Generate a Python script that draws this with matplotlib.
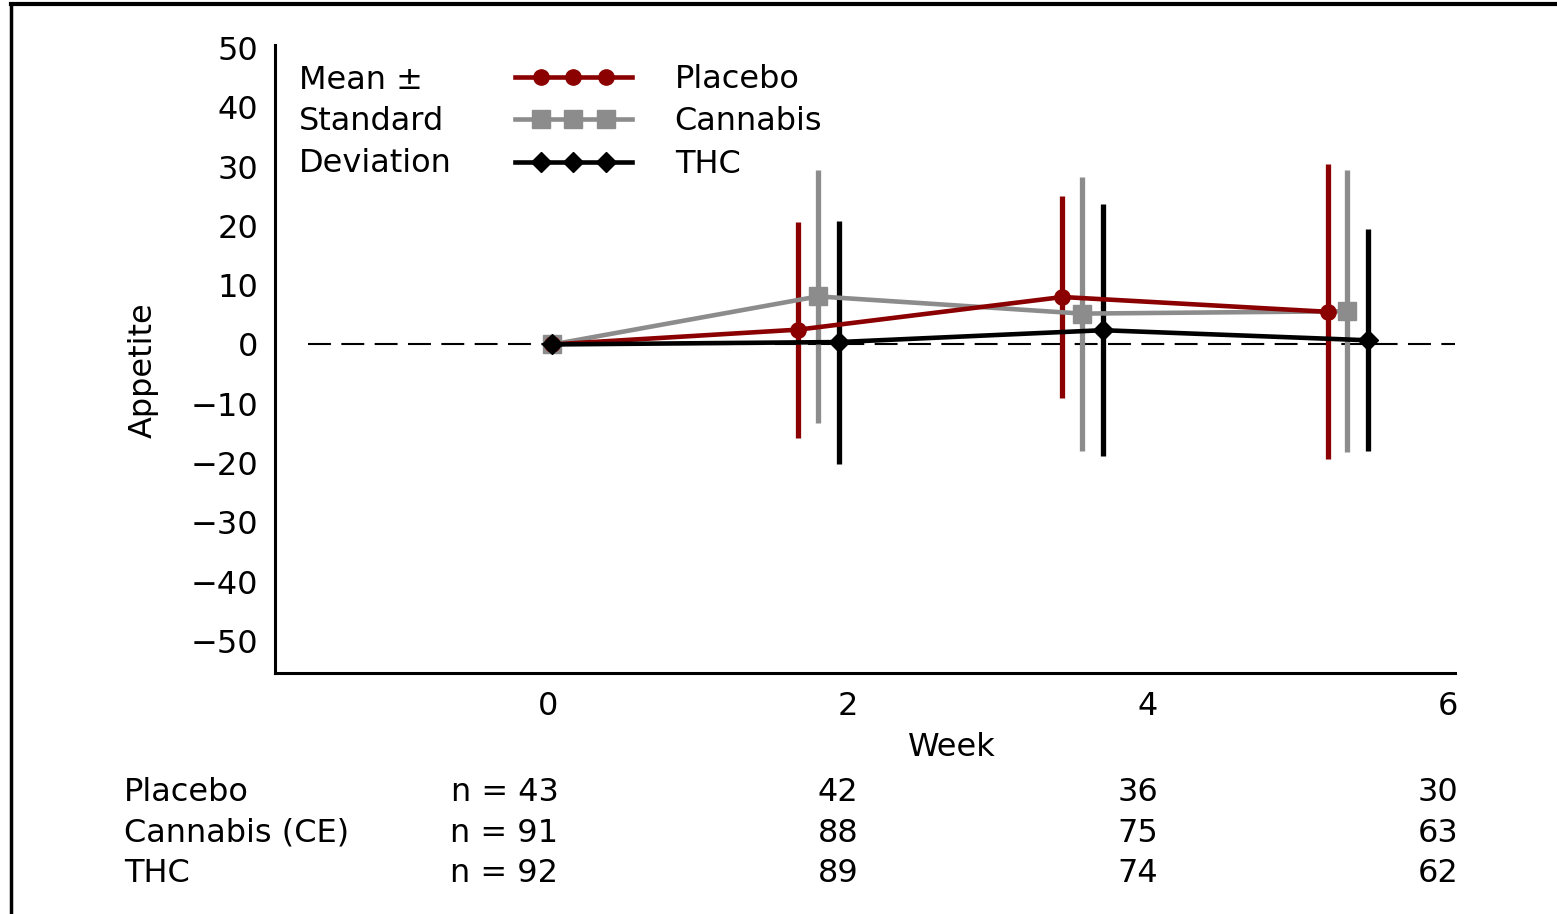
import numpy as np
import matplotlib
matplotlib.use("Agg")
import matplotlib.pyplot as plt
import matplotlib.transforms as mtransforms
from matplotlib.lines import Line2D
from matplotlib.legend_handler import HandlerLine2D

# Appetite change, mean and SD per group (week positions as drawn, dodged)
weeks = [0, 2, 4, 6]
placebo_x = [0.03, 1.67, 3.43, 5.20]
placebo_mean = [0, 2.5, 8.0, 5.5]
placebo_sd = [0, 18.2, 17.1, 24.9]
cannabis_x = [0.03, 1.80, 3.56, 5.33]
cannabis_mean = [0, 8.1, 5.2, 5.6]
cannabis_sd = [0, 21.3, 23.1, 23.8]
thc_x = [0.03, 1.94, 3.70, 5.47]
thc_mean = [0, 0.4, 2.4, 0.7]
thc_sd = [0, 20.5, 21.2, 18.7]

# number of patients per week
row_labels = ["Placebo", "Cannabis (CE)", "THC"]
n_placebo = [43, 42, 36, 30]
n_cannabis = [91, 88, 75, 63]
n_thc = [92, 89, 74, 62]

plt.rcParams['font.family'] = ['DejaVu Sans']
FS = 23


class ThreeMarkHandler(HandlerLine2D):
    # line across the whole handle, three markers inside it
    def create_artists(self, legend, orig_handle, xdescent, ydescent,
                       width, height, fontsize, trans):
        y = (height - ydescent) / 2
        line = Line2D([-xdescent, -xdescent + width], [y, y])
        self.update_prop(line, orig_handle, legend)
        line.set_marker('None')
        pad = 0.22 * width
        marks = Line2D(np.linspace(-xdescent + pad, -xdescent + width - pad, 3),
                       [y] * 3)
        self.update_prop(marks, orig_handle, legend)
        marks.set_linestyle('None')
        line.set_transform(trans)
        marks.set_transform(trans)
        return [line, marks]


fig = plt.figure(figsize=(15.57, 9.14), dpi=100)
ax = fig.add_axes([0.1766, 0.2637, 0.7579, 0.6871])

ax.hlines(0, -1.6, 6.05, colors='black', linewidth=1.5,
          linestyles=(0, (11, 5)), zorder=1)

series = [
    ("Cannabis", cannabis_x, cannabis_mean, cannabis_sd, '#8c8c8c', 's', 12.5),
    ("Placebo", placebo_x, placebo_mean, placebo_sd, '#8b0000', 'o', 11),
    ("THC", thc_x, thc_mean, thc_sd, 'black', 'D', 10.5),
]
handles = {}
for name, x, m, sd, col, mk, ms in series:
    eb = ax.errorbar(x, m, yerr=sd, fmt='-' + mk, color=col, lw=3.3, ms=ms,
                     elinewidth=3.8, capsize=0, zorder=3)
    handles[name] = eb[0]

order = ["Placebo", "Cannabis", "THC"]
ax.legend([handles[k] for k in order], order, loc='center left',
          bbox_to_anchor=(0.2034, 0.8774), frameon=False, fontsize=FS,
          borderpad=0, borderaxespad=0, handlelength=3.65, handletextpad=1.35,
          labelspacing=0.36,
          handler_map={Line2D: ThreeMarkHandler()})
ax.text(0.0203, 0.8774, "Mean \u00b1\nStandard\nDeviation", transform=ax.transAxes,
        ha='left', va='center', fontsize=FS, linespacing=1.45)

ax.set_xlim(-1.82, 6.047)
ax.set_ylim(-55.4, 50.5)
ax.set_xticks(weeks)
ax.set_yticks(np.arange(-50, 51, 10))
ax.tick_params(axis='both', length=0, labelsize=FS)
ax.tick_params(axis='y', pad=12)
ax.tick_params(axis='x', pad=13)
for s in ['top', 'right']:
    ax.spines[s].set_visible(False)
for s in ['left', 'bottom']:
    ax.spines[s].set_linewidth(2.2)

ax.set_xlabel("Week", fontsize=FS, va='center')
ax.xaxis.set_label_coords(0.5737, -0.119)
ax.set_ylabel("Appetite", fontsize=FS, va='center')
ax.yaxis.set_label_coords(-0.112, 0.4825)

# n table under the axis
trans = mtransforms.blended_transform_factory(ax.transData, fig.transFigure)
row_y = [0.1324, 0.0886, 0.0438]
for lab, counts, yy in zip(row_labels, [n_placebo, n_cannabis, n_thc], row_y):
    fig.text(0.0796, yy, lab, fontsize=FS, ha='left', va='center')
    for i, (w, c) in enumerate(zip(weeks, counts)):
        txt = "n = %d" % c if i == 0 else str(c)
        ax.text(w + 0.07, yy, txt, transform=trans, fontsize=FS,
                ha='right', va='center')

# outer frame (top and left edges)
fig.add_artist(Line2D([0.0071, 0.0071], [0, 0.9956], transform=fig.transFigure,
                      color='black', lw=2.5))
fig.add_artist(Line2D([0.0071, 1], [0.9956, 0.9956], transform=fig.transFigure,
                      color='black', lw=3))

fig.savefig('out.png', dpi=100)
